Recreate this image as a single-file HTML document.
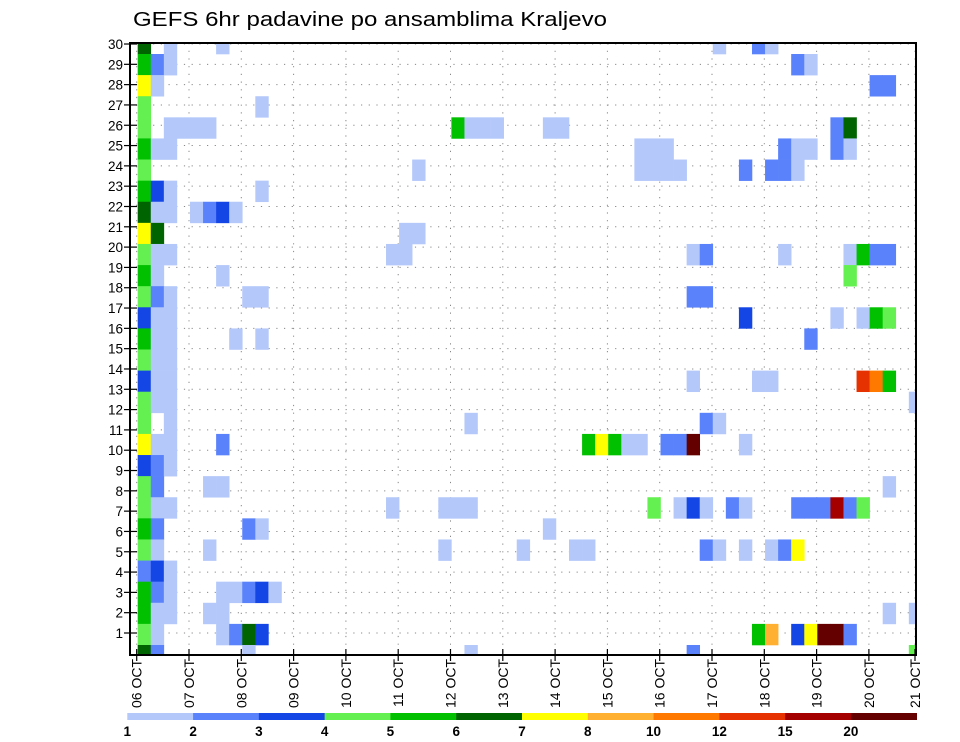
<!DOCTYPE html>
<html><head><meta charset="utf-8"><style>
html,body{margin:0;padding:0;background:#fff;}
svg{display:block;font-family:"Liberation Sans",sans-serif;}
</style></head><body>
<svg id="chart" width="960" height="742" viewBox="0 0 960 742" xmlns="http://www.w3.org/2000/svg">
<text x="133" y="26" font-size="20" textLength="474" lengthAdjust="spacingAndGlyphs">GEFS 6hr padavine po ansamblima Kraljevo</text>
<g id="grid"></g>
<g id="cells"></g>
<rect x="130" y="43" width="786" height="612" fill="none" stroke="#000" stroke-width="2"/>
<g id="yaxis"></g>
<g id="xaxis"></g>
<g id="legend"></g>
</svg>
<script>
// ---- data ----
const dayLabels = ["06","07","08","09","10","11","12","13","14","15","16","17","18","19","20","21"];
const memberTicks = [1,2,3,4,5,6,7,8,9,10,11,12,13,14,15,16,17,18,19,20,21,22,23,24,25,26,27,28,29,30];
const levelBounds = [1,2,3,4,5,6,7,8,10,12,15,20];
const levelColors = ["#b4c8fa","#5a82fa","#1446e6","#64f050","#00c000","#006400","#ffff00","#ffb030","#ff7800","#e63200","#a50000","#640000"];
const cellMembers = [30,29,28,27,26,25,24,23,22,21,20,19,18,17,16,15,14,13,12,11,10,9,8,7,6,5,4,3,2,1];
const stepsByMember = [
[0,2,6,44,47,48],
[0,1,2,50,51],
[0,1,56,57],
[0,9],
[0,2,3,4,5,24,25,26,27,31,32,53,54],
[0,1,2,38,39,40,49,50,51,53,54],
[0,21,38,39,40,41,46,48,49,50],
[0,1,2,9],
[0,1,2,4,5,6,7],
[0,1,20,21],
[0,1,2,19,20,42,43,49,54,55,56,57],
[0,1,6,54],
[0,1,2,8,9,42,43],
[0,1,2,46,53,55,56,57],
[0,1,2,7,9,51],
[0,1,2],
[0,1,2,42,47,48,55,56,57],
[0,1,2,59],
[0,2,25,43,44],
[0,1,2,6,34,35,36,37,38,40,41,42,46],
[0,1,2],
[0,1,5,6,57],
[0,1,2,19,23,24,25,39,41,42,43,45,46,50,51,52,53,54,55],
[0,1,8,9,31],
[0,1,5,23,29,33,34,43,44,46,48,49,50],
[0,1,2],
[0,1,2,6,7,8,9,10],
[0,1,2,5,6,57,59],
[0,1,6,7,8,9,47,48,50,51,52,53,54],
[0,1,8,25,42,59]
];
const precipByMember = [
[6.5,1.5,1.5,1.5,2.5,1.5],
[5.5,2.5,1.5,2.5,1.5],
[7.5,1.5,2.5,2.5],
[4.5,1.5],
[4.5,1.5,1.5,1.5,1.5,5.5,1.5,1.5,1.5,1.5,1.5,2.5,6.5],
[5.5,1.5,1.5,1.5,1.5,1.5,2.5,1.5,1.5,2.5,1.5],
[4.5,1.5,1.5,1.5,1.5,1.5,2.5,2.5,2.5,1.5],
[5.5,3.5,1.5,1.5],
[6.5,1.5,1.5,1.5,2.5,3.5,1.5],
[7.5,6.5,1.5,1.5],
[4.5,1.5,1.5,1.5,1.5,1.5,2.5,1.5,1.5,5.5,2.5,2.5],
[5.5,1.5,1.5,4.5],
[4.5,2.5,1.5,1.5,1.5,2.5,2.5],
[3.5,1.5,1.5,3.5,1.5,1.5,5.5,4.5],
[5.5,1.5,1.5,1.5,1.5,2.5],
[4.5,1.5,1.5],
[3.5,1.5,1.5,1.5,1.5,1.5,13,11,5.5],
[4.5,1.5,1.5,1.5],
[4.5,1.5,1.5,2.5,1.5],
[7.5,1.5,1.5,2.5,5.5,7.5,5.5,1.5,1.5,2.5,2.5,25,1.5],
[3.5,2.5,1.5],
[4.5,2.5,1.5,1.5,1.5],
[4.5,1.5,1.5,1.5,1.5,1.5,1.5,4.5,1.5,3.5,1.5,2.5,1.5,2.5,2.5,2.5,17,2.5,4.5],
[5.5,2.5,2.5,1.5,1.5],
[4.5,1.5,1.5,1.5,1.5,1.5,1.5,2.5,1.5,1.5,1.5,2.5,7.5],
[2.5,3.5,1.5],
[5.5,2.5,1.5,1.5,1.5,2.5,3.5,1.5],
[5.5,1.5,1.5,1.5,1.5,1.5,1.5],
[4.5,1.5,1.5,2.5,6.5,3.5,5.5,9,3.5,7.5,25,25,2.5],
[6.5,2.5,1.5,1.5,2.5,4.5]
];
// ---- scales ----
const NS="http://www.w3.org/2000/svg";
const PL=130,PR=916,PT=43,PB=655;
const stepW=13.07, stepX0=137.7;
const xStep = s => stepX0 + s*stepW;
const xDay = d => Math.min(136.7 + d*52.3, 915);
const cellH=21.107;
const yCellTop = m => 54 + (29 - m)*cellH;   // member 30 top row (clipped)
const yTick = m => 633 - (m-1)*20.31;
function colorFor(v){let k=-1;for(let i=0;i<levelBounds.length;i++){if(v>=levelBounds[i])k=i;}return k<0?null:levelColors[k];}
function mk(tag,attrs,parent){const e=document.createElementNS(NS,tag);for(const k in attrs)e.setAttribute(k,attrs[k]);parent.appendChild(e);return e;}
const svg=document.getElementById('chart');
const defs=mk('defs',{},svg);
const cp=mk('clipPath',{id:'pc'},defs);
mk('rect',{x:PL,y:PT,width:PR-PL,height:PB-PT},cp);
// grid
const grid=document.getElementById('grid');
memberTicks.forEach(m=>{
  const l=mk('line',{x1:PL,x2:PR,y1:yTick(m),y2:yTick(m),stroke:'#888','stroke-width':1,'stroke-dasharray':'1.2 6.5'},grid);
  
  
});
dayLabels.forEach((d,i)=>{
  const l=mk('line',{x1:xDay(i),x2:xDay(i),y1:PT,y2:PB,stroke:'#888','stroke-width':1,'stroke-dasharray':'1.2 6.5'},grid);
  
  
});
// cells
const cells=document.getElementById('cells');
cells.setAttribute('clip-path','url(#pc)');
cellMembers.forEach((m,r)=>{
  stepsByMember[r].forEach((s,j)=>{
    const c=colorFor(precipByMember[r][j]); if(!c)return;
    const e=mk('rect',{x:xStep(s),y:yCellTop(m),width:stepW+0.3,height:cellH+0.3,fill:c},cells);
    
    
  });
});
// y axis
const ya=document.getElementById('yaxis');
memberTicks.forEach(m=>{
  const y=yTick(m);
  mk('line',{x1:124,x2:137,y1:y,y2:y,stroke:'#000','stroke-width':1.2},ya);
  const t=mk('text',{x:123,y:y+5,'font-size':13.5,'text-anchor':'end'},ya);
  t.textContent=String(m);
  
  
});
// x axis
const xa=document.getElementById('xaxis');
dayLabels.forEach((d,i)=>{
  const x=xDay(i);
  mk('line',{x1:x,x2:x,y1:PB-6,y2:PB+6,stroke:'#000','stroke-width':1.2},xa);
  const t=mk('text',{transform:'translate('+(x+5)+',659) rotate(-90)','font-size':14,'text-anchor':'end'},xa);
  t.textContent=d+'   OCT';
  
  
});
// legend
const lg=document.getElementById('legend');
const segW=(916.7-127.3)/levelColors.length;
levelColors.forEach((c,i)=>{
  const r=mk('rect',{x:127.3+i*segW,y:713,width:segW+0.3,height:7,fill:c},lg);
  
  
});
levelBounds.forEach((b,i)=>{
  const t=mk('text',{x:127.3+i*segW,y:736,'font-size':13.5,'font-weight':'bold','text-anchor':'middle'},lg);
  t.textContent=String(b);
  
  
});
</script>
</body></html>
